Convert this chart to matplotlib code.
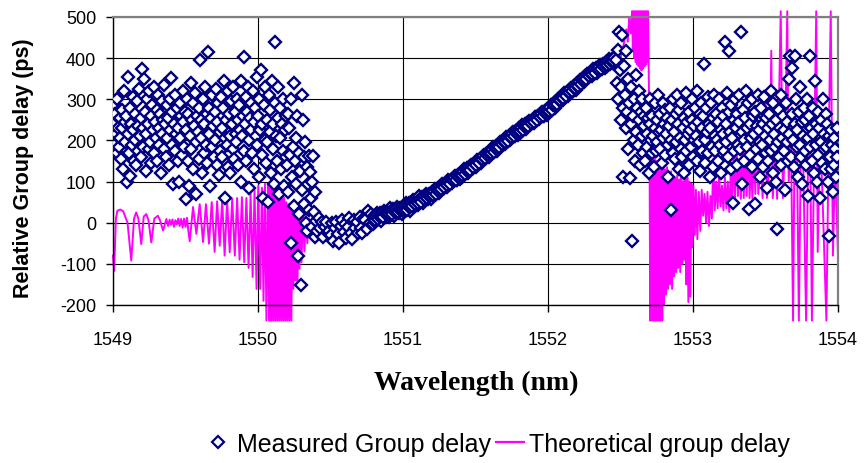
import matplotlib
matplotlib.use("Agg")
import matplotlib.pyplot as plt
from matplotlib.lines import Line2D

plt.rcParams['axes.unicode_minus'] = False

# ---------------- Measured group delay ----------------
# left noisy region
wl_left = [
 1549.000, 1549.005, 1549.010, 1549.015, 1549.020, 1549.025, 1549.030, 1549.035, 1549.040, 1549.045,
 1549.050, 1549.055, 1549.060, 1549.065, 1549.070, 1549.075, 1549.080, 1549.085, 1549.090, 1549.095,
 1549.100, 1549.105, 1549.110, 1549.115, 1549.120, 1549.125, 1549.130, 1549.135, 1549.140, 1549.145,
 1549.150, 1549.155, 1549.160, 1549.165, 1549.170, 1549.175, 1549.180, 1549.185, 1549.190, 1549.195,
 1549.200, 1549.205, 1549.210, 1549.215, 1549.220, 1549.225, 1549.230, 1549.235, 1549.240, 1549.245,
 1549.250, 1549.255, 1549.260, 1549.265, 1549.270, 1549.275, 1549.280, 1549.285, 1549.290, 1549.295,
 1549.300, 1549.305, 1549.310, 1549.315, 1549.320, 1549.325, 1549.330, 1549.335, 1549.340, 1549.345,
 1549.350, 1549.355, 1549.360, 1549.365, 1549.370, 1549.375, 1549.380, 1549.385, 1549.390, 1549.395,
 1549.400, 1549.405, 1549.410, 1549.415, 1549.420, 1549.425, 1549.430, 1549.435, 1549.440, 1549.445,
 1549.450, 1549.455, 1549.460, 1549.465, 1549.470, 1549.475, 1549.480, 1549.485, 1549.490, 1549.495,
 1549.500, 1549.505, 1549.510, 1549.515, 1549.520, 1549.525, 1549.530, 1549.535, 1549.540, 1549.545,
 1549.550, 1549.555, 1549.560, 1549.565, 1549.570, 1549.575, 1549.580, 1549.585, 1549.590, 1549.595,
 1549.600, 1549.605, 1549.610, 1549.615, 1549.620, 1549.625, 1549.630, 1549.635, 1549.640, 1549.645,
 1549.650, 1549.655, 1549.660, 1549.665, 1549.670, 1549.675, 1549.680, 1549.685, 1549.690, 1549.695,
 1549.700, 1549.705, 1549.710, 1549.715, 1549.720, 1549.725, 1549.730, 1549.735, 1549.740, 1549.745,
 1549.750, 1549.755, 1549.760, 1549.765, 1549.770, 1549.775, 1549.780, 1549.785, 1549.790, 1549.795,
 1549.800, 1549.805, 1549.810, 1549.815, 1549.820, 1549.825, 1549.830, 1549.835, 1549.840, 1549.845,
 1549.850, 1549.855, 1549.860, 1549.865, 1549.870, 1549.875, 1549.880, 1549.885, 1549.890, 1549.895,
 1549.900, 1549.905, 1549.910, 1549.915, 1549.920, 1549.925, 1549.930, 1549.935, 1549.940, 1549.945,
 1549.950, 1549.955, 1549.960, 1549.965, 1549.970, 1549.975, 1549.980, 1549.985, 1549.990, 1549.995,
 1550.000, 1550.005, 1550.010, 1550.015, 1550.020, 1550.025, 1550.030, 1550.035, 1550.040, 1550.045,
 1550.050, 1550.055, 1550.060, 1550.065, 1550.070, 1550.075, 1550.080, 1550.085, 1550.090, 1550.095,
 1550.100, 1550.105, 1550.110, 1550.115, 1550.120, 1550.125, 1550.130, 1550.135, 1550.140, 1550.145,
 1550.150, 1550.155, 1550.160, 1550.165, 1550.170, 1550.175, 1550.180, 1550.185, 1550.190, 1550.195,
 1550.200, 1550.205, 1550.210, 1550.215, 1550.220, 1550.225, 1550.230, 1550.235, 1550.240, 1550.245,
 1550.250, 1550.255, 1550.260, 1550.265, 1550.270, 1550.275, 1550.280, 1550.285, 1550.290, 1550.295,
 1550.300, 1550.305, 1550.310, 1550.315, 1550.320, 1550.325, 1550.330, 1550.335, 1550.340, 1550.345,
 1550.350, 1550.355, 1550.360, 1550.365, 1550.370, 1550.375, 1550.380, 1550.385, 1550.390, 1550.395]
gd_left = [
 240, 288, 190, 265, 215, 170, 300, 230, 184, 255,
 205, 155, 275, 230, 131, 320, 245, 195, 260, 99,
 215, 354, 170, 280, 113, 240, 190, 305, 225, 150,
 265, 200, 140, 295, 235, 175, 325, 210, 255, 160,
 374, 230, 185, 349, 270, 125, 215, 300, 240, 180,
 320, 195, 260, 145, 285, 225, 330, 170, 245, 205,
 275, 150, 310, 230, 190, 265, 120, 295, 215, 250,
 180, 335, 240, 160, 285, 205, 255, 140, 300, 225,
 352, 190, 270, 95, 240, 310, 175, 215, 280, 150,
 230, 100, 290, 205, 260, 165, 320, 245, 185, 270,
 58, 225, 300, 150, 265, 89, 210, 340, 180, 250,
 290, 130, 235, 315, 195, 70, 260, 220, 155, 280,
 395, 205, 250, 120, 300, 170, 240, 330, 190, 265,
 145, 415, 280, 215, 90, 255, 310, 185, 235, 160,
 270, 200, 325, 140, 245, 290, 115, 220, 175, 305,
 230, 160, 280, 345, 205, 60, 250, 190, 320, 135,
 265, 210, 120, 295, 240, 180, 330, 155, 270, 215,
 195, 300, 250, 140, 285, 225, 100, 345, 210, 260,
 403, 175, 240, 305, 150, 270, 330, 200, 85, 255,
 225, 290, 170, 320, 245, 130, 280, 210, 355, 190,
 260, 110, 300, 225, 370, 165, 240, 60, 285, 200,
 330, 145, 250, 195, 50, 310, 220, 275, 120, 345,
 180, 240, 95, 290, 439, 210, 150, 330, 255, 70,
 205, 280, 130, 240, 175, 300, 90, 225, 160, 260,
 140, 265, 75, 230, 165, -49, 300, 110, 185, 40,
 340, 150, 95, 205, 260, -81, 170, 20, 125, -151,
 310, 80, 250, 160, 45, 196, 0, 135, -20, 95,
 162, 30, 123, 60, -10, 100, 162, 25, -35, 75]

# central dispersion curve
wl_mid = [
 1550.40, 1550.41, 1550.42, 1550.43, 1550.44, 1550.45, 1550.46, 1550.47, 1550.48, 1550.49,
 1550.50, 1550.51, 1550.52, 1550.53, 1550.54, 1550.55, 1550.56, 1550.57, 1550.58, 1550.59,
 1550.60, 1550.61, 1550.62, 1550.63, 1550.64, 1550.65, 1550.66, 1550.67, 1550.68, 1550.69,
 1550.70, 1550.71, 1550.72, 1550.73, 1550.74, 1550.75, 1550.76, 1550.77, 1550.78, 1550.79,
 1550.80, 1550.81, 1550.82, 1550.83, 1550.84, 1550.85, 1550.86, 1550.87, 1550.88, 1550.89,
 1550.90, 1550.91, 1550.92, 1550.93, 1550.94, 1550.95, 1550.96, 1550.97, 1550.98, 1550.99,
 1551.00, 1551.01, 1551.02, 1551.03, 1551.04, 1551.05, 1551.06, 1551.07, 1551.08, 1551.09,
 1551.10, 1551.11, 1551.12, 1551.13, 1551.14, 1551.15, 1551.16, 1551.17, 1551.18, 1551.19,
 1551.20, 1551.21, 1551.22, 1551.23, 1551.24, 1551.25, 1551.26, 1551.27, 1551.28, 1551.29,
 1551.30, 1551.31, 1551.32, 1551.33, 1551.34, 1551.35, 1551.36, 1551.37, 1551.38, 1551.39,
 1551.40, 1551.41, 1551.42, 1551.43, 1551.44, 1551.45, 1551.46, 1551.47, 1551.48, 1551.49,
 1551.50, 1551.51, 1551.52, 1551.53, 1551.54, 1551.55, 1551.56, 1551.57, 1551.58, 1551.59,
 1551.60, 1551.61, 1551.62, 1551.63, 1551.64, 1551.65, 1551.66, 1551.67, 1551.68, 1551.69,
 1551.70, 1551.71, 1551.72, 1551.73, 1551.74, 1551.75, 1551.76, 1551.77, 1551.78, 1551.79,
 1551.80, 1551.81, 1551.82, 1551.83, 1551.84, 1551.85, 1551.86, 1551.87, 1551.88, 1551.89,
 1551.90, 1551.91, 1551.92, 1551.93, 1551.94, 1551.95, 1551.96, 1551.97, 1551.98, 1551.99,
 1552.00, 1552.01, 1552.02, 1552.03, 1552.04, 1552.05, 1552.06, 1552.07, 1552.08, 1552.09,
 1552.10, 1552.11, 1552.12, 1552.13, 1552.14, 1552.15, 1552.16, 1552.17, 1552.18, 1552.19,
 1552.20, 1552.21, 1552.22, 1552.23, 1552.24, 1552.25, 1552.26, 1552.27, 1552.28, 1552.29,
 1552.30, 1552.31, 1552.32, 1552.33, 1552.34, 1552.35, 1552.36, 1552.37, 1552.38, 1552.39,
 1552.40, 1552.41, 1552.42, 1552.43, 1552.44, 1552.45, 1552.46]
gd_mid = [
 3, -21, 12, -14, 1, -34, -10, 2, -26, -20,
 -30, 0, -44, -13, 2, -28, -50, -9, 6, -22,
 -3, -37, -10, 11, -25, -40, 7, -14, 2, -24,
 15, -13, -24, 12, 7, -15, 28, 0, 21, -3,
 16, 2, 24, 11, 24, 5, 20, 29, 15, 21,
 15, 36, 21, 33, 17, 31, 38, 23, 36, 21,
 39, 26, 47, 35, 47, 29, 45, 55, 40, 47,
 42, 64, 50, 63, 48, 63, 71, 57, 71, 57,
 75, 65, 82, 75, 85, 73, 85, 93, 84, 90,
 87, 103, 95, 105, 96, 108, 113, 105, 116, 107,
 122, 112, 130, 122, 133, 121, 134, 141, 133, 138,
 136, 153, 145, 155, 146, 159, 165, 157, 168, 159,
 175, 166, 183, 176, 186, 175, 188, 196, 188, 193,
 191, 208, 200, 210, 201, 214, 220, 211, 223, 213,
 229, 219, 237, 229, 240, 228, 240, 248, 239, 245,
 242, 258, 250, 260, 251, 263, 268, 260, 271, 262,
 277, 268, 286, 280, 291, 280, 293, 301, 294, 300,
 298, 315, 307, 318, 309, 322, 328, 320, 332, 323,
 339, 330, 348, 341, 352, 341, 354, 361, 353, 358,
 356, 373, 364, 375, 365, 378, 383, 374, 385, 375,
 390, 380, 397, 389, 399, 387, 399]

# interleaved samples of the central curve
wl_mid2 = [
 1550.805, 1550.815, 1550.825, 1550.835, 1550.845, 1550.855, 1550.865, 1550.875, 1550.885, 1550.895,
 1550.905, 1550.915, 1550.925, 1550.935, 1550.945, 1550.955, 1550.965, 1550.975, 1550.985, 1550.995,
 1551.005, 1551.015, 1551.025, 1551.035, 1551.045, 1551.055, 1551.065, 1551.075, 1551.085, 1551.095,
 1551.105, 1551.115, 1551.125, 1551.135, 1551.145, 1551.155, 1551.165, 1551.175, 1551.185, 1551.195,
 1551.205, 1551.215, 1551.225, 1551.235, 1551.245, 1551.255, 1551.265, 1551.275, 1551.285, 1551.295,
 1551.305, 1551.315, 1551.325, 1551.335, 1551.345, 1551.355, 1551.365, 1551.375, 1551.385, 1551.395,
 1551.405, 1551.415, 1551.425, 1551.435, 1551.445, 1551.455, 1551.465, 1551.475, 1551.485, 1551.495,
 1551.505, 1551.515, 1551.525, 1551.535, 1551.545, 1551.555, 1551.565, 1551.575, 1551.585, 1551.595,
 1551.605, 1551.615, 1551.625, 1551.635, 1551.645, 1551.655, 1551.665, 1551.675, 1551.685, 1551.695,
 1551.705, 1551.715, 1551.725, 1551.735, 1551.745, 1551.755, 1551.765, 1551.775, 1551.785, 1551.795,
 1551.805, 1551.815, 1551.825, 1551.835, 1551.845, 1551.855, 1551.865, 1551.875, 1551.885, 1551.895,
 1551.905, 1551.915, 1551.925, 1551.935, 1551.945, 1551.955, 1551.965, 1551.975, 1551.985, 1551.995,
 1552.005, 1552.015, 1552.025, 1552.035, 1552.045, 1552.055, 1552.065, 1552.075, 1552.085, 1552.095,
 1552.105, 1552.115, 1552.125, 1552.135, 1552.145, 1552.155, 1552.165, 1552.175, 1552.185, 1552.195,
 1552.205, 1552.215, 1552.225, 1552.235, 1552.245, 1552.255, 1552.265, 1552.275, 1552.285, 1552.295,
 1552.305, 1552.315, 1552.325, 1552.335, 1552.345, 1552.355, 1552.365, 1552.375, 1552.385, 1552.395,
 1552.405, 1552.415, 1552.425, 1552.435, 1552.445, 1552.455]
gd_mid2 = [
 7, 16, 9, 17, 16, 23, 15, 23, 20, 24,
 21, 29, 21, 29, 27, 34, 26, 34, 30, 34,
 31, 40, 32, 41, 39, 47, 40, 49, 45, 50,
 48, 57, 50, 59, 58, 66, 59, 68, 65, 70,
 68, 77, 71, 80, 79, 87, 81, 90, 88, 93,
 91, 101, 94, 104, 103, 111, 105, 114, 112, 117,
 115, 125, 118, 128, 127, 136, 129, 139, 136, 142,
 141, 151, 144, 154, 154, 163, 157, 166, 164, 170,
 169, 178, 172, 181, 181, 190, 184, 194, 191, 197,
 196, 206, 199, 209, 209, 218, 211, 221, 218, 224,
 222, 232, 225, 235, 234, 242, 236, 245, 243, 248,
 246, 256, 249, 259, 258, 266, 260, 269, 267, 272,
 271, 281, 275, 286, 286, 295, 289, 299, 298, 304,
 303, 313, 307, 317, 317, 326, 320, 330, 328, 334,
 333, 343, 337, 347, 347, 356, 349, 359, 356, 362,
 361, 370, 364, 373, 373, 381, 374, 383, 380, 385,
 383, 392, 385, 394, 393, 401]

# right noisy region
wl_right = [
 1552.470, 1552.475, 1552.480, 1552.485, 1552.490, 1552.495, 1552.500, 1552.505, 1552.510, 1552.515,
 1552.520, 1552.525, 1552.530, 1552.535, 1552.540, 1552.545, 1552.550, 1552.555, 1552.560, 1552.565,
 1552.570, 1552.575, 1552.580, 1552.585, 1552.590, 1552.595, 1552.600, 1552.605, 1552.610, 1552.615,
 1552.620, 1552.625, 1552.630, 1552.635, 1552.640, 1552.645, 1552.650, 1552.655, 1552.660, 1552.665,
 1552.670, 1552.675, 1552.680, 1552.685, 1552.690, 1552.695, 1552.700, 1552.705, 1552.710, 1552.715,
 1552.720, 1552.725, 1552.730, 1552.735, 1552.740, 1552.745, 1552.750, 1552.755, 1552.760, 1552.765,
 1552.770, 1552.775, 1552.780, 1552.785, 1552.790, 1552.795, 1552.800, 1552.805, 1552.810, 1552.815,
 1552.820, 1552.825, 1552.830, 1552.835, 1552.840, 1552.845, 1552.850, 1552.855, 1552.860, 1552.865,
 1552.870, 1552.875, 1552.880, 1552.885, 1552.890, 1552.895, 1552.900, 1552.905, 1552.910, 1552.915,
 1552.920, 1552.925, 1552.930, 1552.935, 1552.940, 1552.945, 1552.950, 1552.955, 1552.960, 1552.965,
 1552.970, 1552.975, 1552.980, 1552.985, 1552.990, 1552.995, 1553.000, 1553.005, 1553.010, 1553.015,
 1553.020, 1553.025, 1553.030, 1553.035, 1553.040, 1553.045, 1553.050, 1553.055, 1553.060, 1553.065,
 1553.070, 1553.075, 1553.080, 1553.085, 1553.090, 1553.095, 1553.100, 1553.105, 1553.110, 1553.115,
 1553.120, 1553.125, 1553.130, 1553.135, 1553.140, 1553.145, 1553.150, 1553.155, 1553.160, 1553.165,
 1553.170, 1553.175, 1553.180, 1553.185, 1553.190, 1553.195, 1553.200, 1553.205, 1553.210, 1553.215,
 1553.220, 1553.225, 1553.230, 1553.235, 1553.240, 1553.245, 1553.250, 1553.255, 1553.260, 1553.265,
 1553.270, 1553.275, 1553.280, 1553.285, 1553.290, 1553.295, 1553.300, 1553.305, 1553.310, 1553.315,
 1553.320, 1553.325, 1553.330, 1553.335, 1553.340, 1553.345, 1553.350, 1553.355, 1553.360, 1553.365,
 1553.370, 1553.375, 1553.380, 1553.385, 1553.390, 1553.395, 1553.400, 1553.405, 1553.410, 1553.415,
 1553.420, 1553.425, 1553.430, 1553.435, 1553.440, 1553.445, 1553.450, 1553.455, 1553.460, 1553.465,
 1553.470, 1553.475, 1553.480, 1553.485, 1553.490, 1553.495, 1553.500, 1553.505, 1553.510, 1553.515,
 1553.520, 1553.525, 1553.530, 1553.535, 1553.540, 1553.545, 1553.550, 1553.555, 1553.560, 1553.565,
 1553.570, 1553.575, 1553.580, 1553.585, 1553.590, 1553.595, 1553.600, 1553.605, 1553.610, 1553.615,
 1553.620, 1553.625, 1553.630, 1553.635, 1553.640, 1553.645, 1553.650, 1553.655, 1553.660, 1553.665,
 1553.670, 1553.675, 1553.680, 1553.685, 1553.690, 1553.695, 1553.700, 1553.705, 1553.710, 1553.715,
 1553.720, 1553.725, 1553.730, 1553.735, 1553.740, 1553.745, 1553.750, 1553.755, 1553.760, 1553.765,
 1553.770, 1553.775, 1553.780, 1553.785, 1553.790, 1553.795, 1553.800, 1553.805, 1553.810, 1553.815,
 1553.820, 1553.825, 1553.830, 1553.835, 1553.840, 1553.845, 1553.850, 1553.855, 1553.860, 1553.865,
 1553.870, 1553.875, 1553.880, 1553.885, 1553.890, 1553.895, 1553.900, 1553.905, 1553.910, 1553.915,
 1553.920, 1553.925, 1553.930, 1553.935, 1553.940, 1553.945, 1553.950, 1553.955, 1553.960, 1553.965,
 1553.970, 1553.975, 1553.980, 1553.985, 1553.990, 1553.995]
gd_right = [
 395, 340, 420, 300, 464, 370, 250, 330, 456, 280,
 110, 380, 310, 230, 417, 270, 350, 180, 290, 109,
 240, 330, -44, 260, 200, 300, 150, 360, 220, 280,
 190, 250, 320, 140, 270, 210, 300, 170, 235, 260,
 150, 280, 215, 185, 255, 120, 240, 300, 200, 170,
 260, 210, 135, 290, 230, 175, 250, 195, 310, 220,
 180, 265, 225, 145, 290, 205, 240, 165, 275, 215,
 255, 190, 110, 235, 280, 200, 31, 250, 170, 300,
 220, 155, 265, 195, 310, 240, 130, 275, 205, 180,
 290, 160, 230, 255, 120, 200, 315, 175, 245, 215,
 140, 270, 225, 185, 300, 250, 160, 235, 200, 280,
 210, 320, 150, 245, 195, 265, 125, 290, 230, 175,
 260, 386, 200, 145, 280, 220, 305, 170, 240, 110,
 230, 290, 185, 255, 135, 310, 210, 175, 265, 200,
 150, 245, 300, 190, 225, 120, 280, 215, 260, 175,
 439, 240, 195, 315, 160, 270, 417, 220, 130, 285,
 205, 48, 250, 175, 300, 230, 140, 265, 190, 310,
 245, 180, 464, 220, 95, 275, 200, 150, 255, 320,
 185, 230, 290, 33, 165, 240, 205, 300, 135, 260,
 215, 45, 270, 180, 235, 310, 155, 225, 195, 110,
 280, 190, 240, 135, 305, 210, 170, 255, 85, 230,
 150, 265, 200, 320, 175, 240, 120, 290, 215, 185,
 250, 100, -15, 195, 275, 160, 230, 140, 310, 205,
 260, 175, 225, 80, 290, 195, 245, 150, 350, 215,
 405, 160, 265, 376, 200, 135, 405, 240, 300, 185,
 225, 110, 270, 190, 330, 160, 245, 95, 210, 280,
 175, 250, 140, 300, 205, 65, 260, 185, 405, 230,
 150, 280, 215, 120, 345, 190, 240, 100, 270, 165,
 230, 60, 195, 250, 145, 300, 180, 215, 130, 265,
 185, 240, 100, 210, -32, 160, 225, 130, 190, 75,
 205, 140, 180, 110, 230, 160]

# ---------------- Theoretical group delay (vertices) ----------------
wl_theory = [
 1549.000, 1549.008, 1549.020, 1549.030, 1549.050, 1549.070, 1549.100, 1549.126, 1549.145, 1549.160,
 1549.175, 1549.195, 1549.212, 1549.230, 1549.245, 1549.264, 1549.285, 1549.310, 1549.325, 1549.345,
 1549.368, 1549.380, 1549.390, 1549.400, 1549.410, 1549.420, 1549.430, 1549.440, 1549.450, 1549.460,
 1549.470, 1549.480, 1549.490, 1549.500, 1549.510, 1549.520, 1549.529, 1549.552, 1549.575, 1549.598,
 1549.621, 1549.641, 1549.662, 1549.681, 1549.701, 1549.718, 1549.736, 1549.753, 1549.770, 1549.787,
 1549.805, 1549.822, 1549.840, 1549.856, 1549.873, 1549.889, 1549.905, 1549.920, 1549.935, 1549.949,
 1549.963, 1549.976, 1549.990, 1550.002, 1550.015, 1550.027, 1550.038, 1550.048, 1550.058, 1550.069,
 1550.076, 1550.083, 1550.090, 1550.097, 1550.104, 1550.111, 1550.118, 1550.125, 1550.132, 1550.139,
 1550.146, 1550.153, 1550.160, 1550.167, 1550.174, 1550.181, 1550.188, 1550.195, 1550.202, 1550.209,
 1550.216, 1550.223, 1550.230, 1550.237, 1550.244, 1550.251, 1550.258, 1550.265, 1550.272, 1550.279,
 1550.286, 1550.293, 1550.300, 1550.310, 1550.320, 1550.330, 1550.340, 1550.352, 1550.365, 1550.380,
 1550.400, 1550.420, 1550.500, 1550.600, 1550.700, 1550.800, 1550.900, 1551.000, 1551.100, 1551.200,
 1551.300, 1551.400, 1551.500, 1551.600, 1551.700, 1551.800, 1551.900, 1552.000, 1552.100, 1552.200,
 1552.300, 1552.400, 1552.460, 1552.500, 1552.520, 1552.540, 1552.550, 1552.560, 1552.570, 1552.580,
 1552.585, 1552.590, 1552.595, 1552.600, 1552.605, 1552.610, 1552.615, 1552.620, 1552.625, 1552.630,
 1552.635, 1552.640, 1552.645, 1552.650, 1552.655, 1552.660, 1552.665, 1552.670, 1552.675, 1552.680,
 1552.685, 1552.690, 1552.700, 1552.705, 1552.710, 1552.716, 1552.722, 1552.728, 1552.734, 1552.740,
 1552.746, 1552.752, 1552.758, 1552.764, 1552.770, 1552.776, 1552.782, 1552.788, 1552.794, 1552.800,
 1552.807, 1552.814, 1552.821, 1552.828, 1552.835, 1552.842, 1552.849, 1552.856, 1552.863, 1552.870,
 1552.877, 1552.884, 1552.891, 1552.898, 1552.905, 1552.912, 1552.919, 1552.926, 1552.933, 1552.940,
 1552.947, 1552.954, 1552.961, 1552.968, 1552.975, 1552.982, 1552.989, 1552.996, 1553.003, 1553.012,
 1553.020, 1553.030, 1553.040, 1553.050, 1553.060, 1553.070, 1553.080, 1553.090, 1553.100, 1553.110,
 1553.120, 1553.130, 1553.140, 1553.150, 1553.160, 1553.170, 1553.180, 1553.190, 1553.200, 1553.210,
 1553.220, 1553.230, 1553.240, 1553.250, 1553.260, 1553.270, 1553.280, 1553.290, 1553.300, 1553.310,
 1553.320, 1553.330, 1553.340, 1553.350, 1553.360, 1553.370, 1553.380, 1553.390, 1553.400, 1553.410,
 1553.420, 1553.430, 1553.440, 1553.450, 1553.470, 1553.480, 1553.500, 1553.510, 1553.530, 1553.540,
 1553.550, 1553.570, 1553.580, 1553.605, 1553.620, 1553.635, 1553.650, 1553.660, 1553.675, 1553.690,
 1553.700, 1553.715, 1553.730, 1553.745, 1553.760, 1553.780, 1553.795, 1553.810, 1553.820, 1553.835,
 1553.850, 1553.860, 1553.875, 1553.890, 1553.920, 1553.935, 1553.950, 1553.965, 1553.980, 1554.000]
gd_theory = [
 -80, -117, 10, 29, 32, 28, 0, -92, 10, 25,
 10, -52, 15, 21, 5, -48, 10, 17, 5, -19,
 9, -8, 7, -5, 8, -10, 6, -4, 10, -8,
 9, -12, 10, -10, 12, -20, -45, 38, -27, 45,
 -47, 45, -51, 50, -71, 52, -56, 55, -80, 55,
 -72, 58, -80, 60, -90, 62, -96, 60, -110, 70,
 -132, 80, -161, 90, -161, 85, -190, 95, -238, 95,
 -238, 100, -238, 90, -238, 100, -238, 85, -238, 95,
 -238, 80, -238, 75, -238, 60, -238, 50, -238, 45,
 -238, 35, -238, 30, -161, 30, -140, 25, -150, 20,
 -112, 15, -96, 40, -70, 20, -50, 10, -35, 0,
 -10, -12, -18, -18, -5, 10, 23, 33, 50, 70,
 93, 117, 142, 170, 197, 224, 248, 272, 304, 334,
 362, 385, 397, 400, 430, 470, 440, 500, 460, 514,
 420, 514, 400, 514, 390, 514, 385, 514, 380, 514,
 375, 514, 370, 514, 375, 514, 380, 514, 385, 514,
 390, 514, 200, -238, 160, -238, 150, -238, 160, -238,
 150, -238, 145, -238, 150, -238, 140, -238, 135, -200,
 130, -175, 135, -161, 120, -150, 125, -161, 115, -130,
 110, -120, 115, -110, 105, -120, 110, -100, 100, -90,
 138, -150, 110, -193, 100, -180, 95, -60, 90, -30,
 80, -40, 75, -20, 80, 17, 70, 0, 75, -8,
 65, 10, 155, 30, 100, 35, 120, 40, 90, 30,
 110, 35, 100, 26, 120, 40, 180, 60, 200, 65,
 150, 58, 220, 60, 170, 65, 210, 60, 140, 58,
 200, 70, 276, 70, 150, 60, 300, 60, 150, 418,
 60, 180, 58, 514, 60, 200, 514, 100, 230, -238,
 180, 250, -238, 220, 150, -238, 200, 120, -238, 150,
 514, -71, 200, 100, -238, 180, 514, -80, 150, -80]

# ---------------- Figure ----------------
W, H = 868, 464
fig = plt.figure(figsize=(W / 100, H / 100), dpi=100)
L, R, T, B = 113, 838, 18, 306
ax = fig.add_axes([L / W, 1 - B / H, (R - L) / W, (B - T) / H])

navy = '#000080'
magenta = '#FF00FF'
sans = 'Liberation Sans'

ax.plot(wl_theory, gd_theory, color=magenta, lw=1.4, zorder=2, clip_on=False)
wl_meas = wl_left + wl_mid + wl_mid2 + wl_right
gd_meas = gd_left + gd_mid + gd_mid2 + gd_right
ax.plot(wl_meas, gd_meas, ls='none', marker='D', ms=6.2, mew=1.7,
        mec=navy, mfc='white', zorder=3)

ax.set_xlim(1549, 1554)
ax.set_ylim(-200, 500)
ax.set_xticks([1549, 1550, 1551, 1552, 1553, 1554])
ax.set_yticks([-200, -100, 0, 100, 200, 300, 400, 500])
ax.grid(True, color='black', lw=0.8, zorder=0)
ax.set_axisbelow(True)

for s in ('top', 'right'):
    ax.spines[s].set_color('#808080')
    ax.spines[s].set_linewidth(1.6)
for s in ('left', 'bottom'):
    ax.spines[s].set_color('black')
    ax.spines[s].set_linewidth(1.0)

ax.tick_params(axis='both', direction='out', length=5, width=1, color='black')
ax.tick_params(axis='x', pad=14)
ax.tick_params(axis='y', pad=7)
for lab in ax.get_xticklabels() + ax.get_yticklabels():
    lab.set_fontfamily(sans)
    lab.set_fontsize(13)

fig.text(24 / W, 1 - 168 / H, 'Relative Group delay (ps)', rotation=90,
         ha='center', va='center', family=sans, weight='bold', size=15.5)
fig.text(476 / W, 1 - 383 / H, 'Wavelength (nm)', ha='center', va='center',
         family='Liberation Serif', weight='bold', size=20)

h1 = Line2D([], [], ls='none', marker='D', ms=6.0, mew=1.6, mec=navy, mfc='white')
h2 = Line2D([], [], color=magenta, lw=1.6)
fig.legend([h1, h2], ['Measured Group delay', 'Theoretical group delay'],
           loc='center', bbox_to_anchor=(497 / W, 1 - 445 / H), ncol=2,
           frameon=False, prop=dict(family=sans, size=18),
           handlelength=1.1, handletextpad=0.2, columnspacing=0.2)

fig.savefig('out.png', dpi=100)
